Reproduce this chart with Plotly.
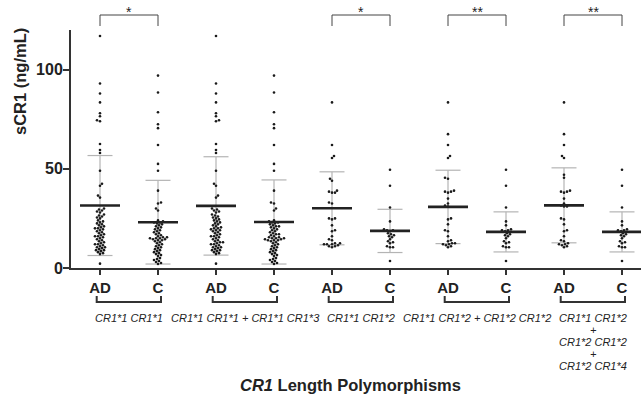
import plotly.graph_objects as go

# ---------------- data ----------------
tick_labels = ["AD", "C", "AD", "C", "AD", "C", "AD", "C", "AD", "C"]
group_labels = [
    ["CR1*1 CR1*1"],
    ["CR1*1 CR1*1 + CR1*1 CR1*3"],
    ["CR1*1 CR1*2"],
    ["CR1*1 CR1*2 + CR1*2 CR1*2"],
    ["CR1*1 CR1*2", "+", "CR1*2 CR1*2", "+", "CR1*2 CR1*4"],
]
significance = ["*", "", "*", "**", "**"]

ad1 = [117, 93, 88, 83.5, 78, 76.5, 74.5, 74, 62.5, 59.5, 58, 49, 42.5, 41.5, 36.5, 35.5,
       30, 29.5, 29, 28.5, 28, 27, 26.5, 26, 25.5, 25, 24, 23.5, 23, 22.5, 22, 21.5, 21,
       20.5, 20, 20, 19.5, 19, 18.5, 18, 17.5, 17, 16.5, 16, 16, 15.5, 15, 14.5, 14, 13.5,
       13, 12.5, 12, 12, 11.5, 11, 10.5, 10.5, 10, 9.5, 9, 9, 8.5, 8, 7.5, 7, 2.2]
c1 = [97, 88.5, 78.5, 72.5, 70.5, 62, 52.5, 49, 39, 33, 32.5, 30, 29, 24, 23.5, 23, 23,
      22.5, 22, 21.5, 21, 20.5, 20, 19.5, 19, 18.5, 18, 17.5, 17, 16.5, 16, 15.5, 15.5,
      15, 15, 15, 14.5, 14.5, 14, 14, 13.5, 13, 12.5, 12, 11.5, 11, 10.5, 10, 9.5, 9,
      8.5, 8, 7.5, 7, 6.5, 6, 5, 4.5, 4, 3.5, 3, 2.5, 2]
ad2 = [117, 93, 88, 83.5, 78, 76.5, 74.5, 74, 62.5, 59.5, 58, 49, 42.5, 41.5, 36.5, 35.5,
       30, 29.5, 29, 28.5, 28, 27, 26.5, 26, 25.5, 25, 24.5, 24, 23.5, 23, 22.5, 22, 21.5,
       21, 20.5, 20, 20, 19.5, 19, 19, 18.5, 18, 17.5, 17, 16.5, 16, 16, 15.5, 15, 14.5,
       14, 13.5, 13, 13, 12.5, 12, 12, 11.5, 11, 10.5, 10.5, 10, 9.5, 9, 9, 8.5, 8, 7.5,
       7, 2.2]
c2 = [97, 88.5, 78.5, 72.5, 70.5, 62, 52.5, 49, 39, 33, 32.5, 30, 29, 24, 23.5, 23, 23,
      22.5, 22, 21.5, 21, 21, 20.5, 20, 19.5, 19, 18.5, 18, 17.5, 17, 17, 16.5, 16, 15.5,
      15.5, 15, 15, 15, 14.5, 14.5, 14, 14, 14, 13.5, 13, 12.5, 12, 11.5, 11, 10.5, 10,
      9.5, 9, 8.5, 8, 7.5, 7, 6.5, 6, 5, 4.5, 4, 3.5, 3, 2.5, 2]
ad3 = [83.5, 62, 56.5, 55.5, 45, 44, 39, 38.5, 38, 38, 33, 32.5, 25, 25, 24.5, 21.5, 19,
       18.5, 16, 14.5, 14, 12.5, 12.5, 12, 12, 12, 11.5, 11, 11, 10.5]
c3 = [49.5, 41.5, 30.5, 23.5, 19.5, 19, 19, 18.5, 17.5, 17, 16.5, 16, 15.5, 14.5, 13.5,
      13, 12.5, 11, 10.5, 10.5, 3.5]
ad4 = [83.5, 67.5, 62, 56.5, 55.5, 45.5, 45, 39, 38.5, 38.5, 38, 35, 32.5, 31.5, 31, 25,
       24.5, 22, 19, 18.5, 16, 14, 13.5, 12.5, 12.5, 12, 12, 11.5, 11, 10.5]
c4 = [49.5, 41.5, 30.5, 23.5, 21.5, 19.5, 19, 19, 18.5, 17.5, 17, 16.5, 16, 15, 13.5, 13,
      12.5, 11, 10.5, 10.5, 3.5]
ad5 = [83.5, 67.5, 62, 56.5, 55.5, 47, 45.5, 39, 38.5, 38.5, 38, 35, 32.5, 31.5, 31, 31,
       25, 24.5, 22, 19, 18.5, 16, 14, 13.5, 12.5, 12, 12, 11.5, 11, 10.5]
c5 = [49.5, 41.5, 30.5, 23.5, 21.5, 19.5, 19, 19, 18.5, 17.5, 17, 16.5, 16, 15, 13.5, 13,
      12.5, 11, 10.5, 10.5, 3.5]
series = [ad1, c1, ad2, c2, ad3, c3, ad4, c4, ad5, c5]

means = [31.5, 23.1, 31.3, 23.2, 30.1, 18.7, 30.8, 18.2, 31.6, 18.2]
sds = [25.2, 21.1, 24.8, 21.2, 18.4, 10.9, 18.5, 10.1, 18.9, 10.1]

# ---------------- layout geometry ----------------
W, H = 641, 406
ML, MR, MT, MB = 71, 0, 30, 138
PW, PH = W - ML - MR, H - MT - MB
Y_MAX = 120
X_MIN = -0.5
PX_PER_X = 58.0
X_MAX = X_MIN + PW / PX_PER_X
PX_PER_Y = PH / Y_MAX

FONT = "Arial, Liberation Sans, sans-serif"
INK = "#222222"


def px_to_paper_y(py):
    return (H - MB - py) / PH


def px_to_paper_x(px):
    return (px - ML) / PW


def swarm(vals, dpx=2.7, step=0.5):
    """deterministic beeswarm offsets (in x data units) for a list of values"""
    order = sorted(range(len(vals)), key=lambda i: vals[i])
    placed = []
    offs = [0.0] * len(vals)
    flip = 1
    for i in order:
        yp = vals[i] * PX_PER_Y
        k = 0
        chosen = None
        while chosen is None:
            cands = [0.0] if k == 0 else [flip * k * step, -flip * k * step]
            for o in cands:
                if all((o - ox) ** 2 + (yp - oy) ** 2 >= dpx ** 2 for ox, oy in placed):
                    chosen = o
                    break
            k += 1
        if chosen != 0:
            flip = -flip
        placed.append((chosen, yp))
        offs[i] = chosen / PX_PER_X
    return offs


fig = go.Figure()

# SD bars (gray)
cap = 12.5 / PX_PER_X
sx, sy = [], []
for i, (m, s) in enumerate(zip(means, sds)):
    lo, hi = m - s, m + s
    sx += [i, i, None, i - cap, i + cap, None, i - cap, i + cap, None]
    sy += [lo, hi, None, hi, hi, None, lo, lo, None]
fig.add_trace(go.Scatter(x=sx, y=sy, mode="lines", line=dict(color="#b4b4b4", width=1.2),
                         hoverinfo="skip", showlegend=False, cliponaxis=False))

# dots
for i, vals in enumerate(series):
    offs = swarm(vals)
    fig.add_trace(go.Scatter(x=[i + o for o in offs], y=vals, mode="markers",
                             marker=dict(size=2.6, color="#1a1a1a", line=dict(width=0)),
                             showlegend=False, cliponaxis=False))

# mean lines
half = 20 / PX_PER_X
mx, my = [], []
for i, m in enumerate(means):
    mx += [i - half, i + half, None]
    my += [m, m, None]
fig.add_trace(go.Scatter(x=mx, y=my, mode="lines", line=dict(color=INK, width=2.6),
                         hoverinfo="skip", showlegend=False))

shapes = []
annotations = []

# significance brackets (top)
y_top = px_to_paper_y(15)
y_tk = px_to_paper_y(26)
for g, star in enumerate(significance):
    if not star:
        continue
    a, c = 2 * g, 2 * g + 1
    shapes.append(dict(type="path", xref="x", yref="paper",
                       path=f"M {a},{y_tk} L {a},{y_top} L {c},{y_top} L {c},{y_tk}",
                       line=dict(color="#444444", width=1)))
    annotations.append(dict(x=(a + c) / 2, y=px_to_paper_y(12), xref="x", yref="paper",
                            text=star, showarrow=False, yanchor="middle",
                            font=dict(family=FONT, size=14, color=INK)))

# group brackets and labels (bottom)
y_br = px_to_paper_y(302)
y_br_tk = px_to_paper_y(296)
line_h = 12
for g, lines in enumerate(group_labels):
    a, c = 2 * g, 2 * g + 1
    x0, x1 = a - 3.3 / PX_PER_X, c + 3 / PX_PER_X
    shapes.append(dict(type="path", xref="x", yref="paper",
                       path=f"M {x0},{y_br_tk} L {x0},{y_br} L {x1},{y_br} L {x1},{y_br_tk}",
                       line=dict(color="#333333", width=2)))
    for j, t in enumerate(lines):
        annotations.append(dict(x=(a + c) / 2, y=px_to_paper_y(318 + j * line_h),
                                xref="x", yref="paper", text=f"<i>{t}</i>",
                                showarrow=False, yanchor="middle",
                                font=dict(family=FONT, size=11, color=INK)))

# axis titles
annotations.append(dict(x=px_to_paper_x(19.5), y=px_to_paper_y(81.5), xref="paper",
                        yref="paper", text="<b>sCR1 (ng/mL)</b>", textangle=-90,
                        showarrow=False, xanchor="center", yanchor="middle",
                        font=dict(family=FONT, size=16.5, color=INK)))
annotations.append(dict(x=px_to_paper_x(350), y=px_to_paper_y(385), xref="paper",
                        yref="paper", text="<b><i>CR1</i> Length Polymorphisms</b>",
                        showarrow=False, xanchor="center", yanchor="middle",
                        font=dict(family=FONT, size=16.5, color=INK)))

fig.update_layout(
    width=W, height=H,
    margin=dict(l=ML, r=MR, t=MT, b=MB, pad=0),
    paper_bgcolor="white", plot_bgcolor="white",
    showlegend=False,
    shapes=shapes, annotations=annotations,
    xaxis=dict(range=[X_MIN, X_MAX], tickmode="array", tickvals=list(range(10)),
               ticktext=[f"<b>{t}</b>" for t in tick_labels],
               showgrid=False, zeroline=False, showline=True, linecolor="#333333",
               linewidth=2, ticks="outside", ticklen=5, tickwidth=1.5, tickcolor="#333333",
               tickfont=dict(family=FONT, size=15, color=INK), fixedrange=True),
    yaxis=dict(range=[0, Y_MAX], tickmode="array", tickvals=[0, 50, 100],
               ticktext=["<b>0</b>", "<b>50</b>", "<b>100</b>"],
               showgrid=False, zeroline=False, showline=True, linecolor="#333333",
               linewidth=2, ticks="outside", ticklen=6, tickwidth=2, tickcolor="#333333",
               ticklabelstandoff=-3,
               tickfont=dict(family=FONT, size=16, color=INK), fixedrange=True),
)

fig.write_html("out.html")
